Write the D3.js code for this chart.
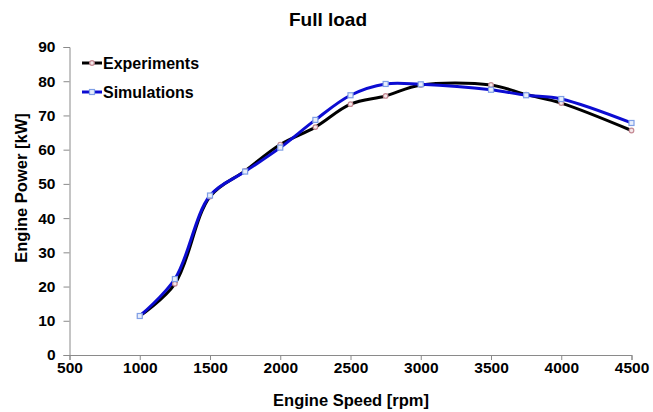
<!DOCTYPE html>
<html>
<head>
<meta charset="utf-8">
<script src="https://cdn.jsdelivr.net/npm/d3@7"></script>
<style>
  body { margin: 0; background: #fff; }
  text { font-family: "Liberation Sans", Arial, sans-serif; font-weight: bold; fill: #000; }
</style>
</head>
<body>
<script>
// Full load: motoreffekt mod omdrejninger
const speed = [1000, 1250, 1500, 1750, 2000, 2250, 2500, 2750, 3000, 3500, 3750, 4000, 4500];
const experiments = [11.4, 20.8, 46.3, 53.8, 61.5, 66.6, 73.3, 75.7, 78.9, 78.9, 76.1, 73.6, 65.6];
const simulations = [11.4, 22.2, 46.6, 53.6, 60.6, 68.7, 75.9, 79.2, 79.1, 77.5, 75.9, 74.8, 67.8];
const xTicks = [500, 1000, 1500, 2000, 2500, 3000, 3500, 4000, 4500];
const yTicks = [0, 10, 20, 30, 40, 50, 60, 70, 80, 90];

const width = 653, height = 412;
const svg = d3.select("body").append("svg").attr("width", width).attr("height", height);

const x = d3.scaleLinear().domain([500, 4500]).range([69.5, 631.5]);
const y = d3.scaleLinear().domain([0, 90]).range([355, 47]);

// akser
const xAxis = svg.append("g")
  .attr("transform", "translate(0,355)")
  .call(d3.axisBottom(x).tickValues(xTicks).tickSize(5).tickPadding(10).tickFormat(d3.format("d")));
const yAxis = svg.append("g")
  .attr("transform", "translate(69.5,0)")
  .call(d3.axisLeft(y).tickValues(yTicks).tickSize(6).tickPadding(8));

[xAxis, yAxis].forEach(a => {
  a.select(".domain").attr("stroke", "#8a8a8a");
  a.selectAll(".tick line").attr("stroke", "#8a8a8a");
  a.selectAll(".tick text").style("font-size", "15.5px").attr("fill", "#000");
});
xAxis.selectAll(".tick text").attr("dy", "0.2em");

// titler
svg.append("text").attr("x", 328).attr("y", 26).attr("text-anchor", "middle")
  .style("font-size", "19px").text("Full load");
svg.append("text").attr("x", 351).attr("y", 406).attr("text-anchor", "middle")
  .style("font-size", "16.5px").text("Engine Speed [rpm]");
svg.append("text").attr("transform", "translate(27,188) rotate(-90)").attr("text-anchor", "middle")
  .style("font-size", "16.5px").text("Engine Power [kW]");

const line = d3.line()
  .x((d, i) => x(speed[i]))
  .y(d => y(d))
  .curve(d3.curveCatmullRom.alpha(0.5));

const series = [
  { name: "Experiments", values: experiments, color: "#000000", marker: "circle", mk: "#c58a94" },
  { name: "Simulations", values: simulations, color: "#0c0cd2", marker: "square", mk: "#7f9fe6" }
];

series.forEach(s => {
  svg.append("path")
    .attr("d", line(s.values))
    .attr("fill", "none")
    .attr("stroke", s.color)
    .attr("stroke-width", 3);
});

function drawMarker(g, type, cx, cy, col) {
  if (type === "circle") {
    g.append("circle").attr("cx", cx).attr("cy", cy).attr("r", 2.3)
      .attr("fill", "#f4e8ea").attr("stroke", col).attr("stroke-width", 1.2);
  } else {
    g.append("rect").attr("x", cx - 2.5).attr("y", cy - 2.5).attr("width", 5).attr("height", 5)
      .attr("fill", "#e8eefc").attr("stroke", col).attr("stroke-width", 1.2);
  }
}

series.forEach(s => {
  const g = svg.append("g");
  s.values.forEach((v, i) => drawMarker(g, s.marker, x(speed[i]), y(v), s.mk));
});

// forklaring
series.forEach((s, i) => {
  const ly = 63 + i * 29;
  const g = svg.append("g");
  g.append("line").attr("x1", 82).attr("x2", 102).attr("y1", ly).attr("y2", ly)
    .attr("stroke", s.color).attr("stroke-width", 3);
  drawMarker(g, s.marker, 92, ly, s.mk);
  g.append("text").attr("x", 103).attr("y", ly + 5.5).style("font-size", "16px").text(s.name);
});
</script>
</body>
</html>
